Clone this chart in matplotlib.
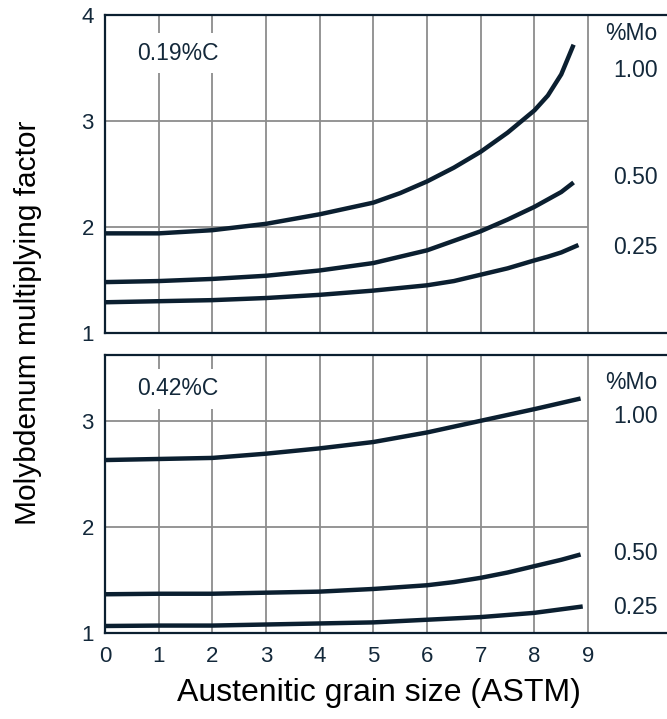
import matplotlib
matplotlib.use("Agg")
import matplotlib.pyplot as plt
import numpy as np

plt.rcParams['font.family'] = ['Liberation Sans', 'DejaVu Sans']

# grain size readings (ASTM) and multiplying factors
# 0.19 %C panel
x_top_100 = [0, 1, 2, 3, 4, 5, 5.5, 6, 6.5, 7, 7.5, 8, 8.25, 8.5, 8.73]
y_top_100 = [1.94, 1.94, 1.97, 2.03, 2.12, 2.23, 2.32, 2.43, 2.56, 2.71, 2.89, 3.10, 3.24, 3.44, 3.72]
x_top_050 = [0, 1, 2, 3, 4, 5, 6, 6.5, 7, 7.5, 8, 8.5, 8.73]
y_top_050 = [1.48, 1.49, 1.51, 1.54, 1.59, 1.66, 1.78, 1.87, 1.96, 2.07, 2.19, 2.33, 2.42]
x_top_025 = [0, 1, 2, 3, 4, 5, 6, 6.5, 7, 7.5, 8, 8.25, 8.5, 8.82]
y_top_025 = [1.29, 1.30, 1.31, 1.33, 1.36, 1.40, 1.45, 1.49, 1.55, 1.61, 1.685, 1.72, 1.76, 1.83]

# 0.42 %C panel
x_bot_100 = [0, 1, 2, 3, 4, 5, 6, 7, 8, 8.86]
y_bot_100 = [2.63, 2.64, 2.65, 2.69, 2.74, 2.80, 2.89, 3.00, 3.11, 3.21]
x_bot_050 = [0, 1, 2, 3, 4, 5, 6, 6.5, 7, 7.5, 8, 8.5, 8.86]
y_bot_050 = [1.365, 1.37, 1.37, 1.38, 1.39, 1.415, 1.45, 1.48, 1.52, 1.57, 1.63, 1.69, 1.74]
x_bot_025 = [0, 1, 2, 3, 4, 5, 6, 7, 8, 8.9]
y_bot_025 = [1.066, 1.07, 1.07, 1.08, 1.09, 1.10, 1.125, 1.15, 1.19, 1.25]

mo_labels = ['1.00', '0.50', '0.25']
carbon_labels = ['0.19%C', '0.42%C']
x_ticks = list(range(0, 10))

dark = '#0b1f30'
txt = '#13283a'
grid_c = '#8c8c8c'

fig = plt.figure(figsize=(6.67, 7.19), dpi=100)
W, H = 667, 719
left = 105 / W
ax1 = fig.add_axes([left, 1 - 333 / H, 1 - left, (333 - 15) / H])
ax2 = fig.add_axes([left, 1 - 633 / H, 1 - left, (633 - 355) / H])


def style(ax, ymax, yticks, show_x):
    ax.set_xlim(0, 10.47)
    ax.set_ylim(1, ymax)
    for s in ['top', 'bottom', 'left']:
        ax.spines[s].set_color(dark)
        ax.spines[s].set_linewidth(1.6)
    ax.spines['right'].set_visible(False)
    # grid only inside the 0..9 range
    ax.vlines(x_ticks[1:], 1, ymax, color=grid_c, lw=1.3, zorder=1)
    ax.hlines([t for t in yticks if 1 < t < ymax], 0, 9, color=grid_c, lw=1.3, zorder=1)
    ax.set_yticks(yticks)
    ax.set_yticklabels([str(t) for t in yticks])
    ax.tick_params(axis='y', length=0, pad=8, labelsize=16, labelcolor=txt)
    ax.set_xticks(x_ticks)
    if show_x:
        ax.set_xticklabels([str(t) for t in x_ticks])
    else:
        ax.set_xticklabels([])
    ax.tick_params(axis='x', length=0, pad=9, labelsize=16, labelcolor=txt)


style(ax1, 4, [1, 2, 3, 4], False)
style(ax2, 3.62, [1, 2, 3], True)

for x, y in [(x_top_100, y_top_100), (x_top_050, y_top_050), (x_top_025, y_top_025)]:
    ax1.plot(x, y, color=dark, lw=3.2, solid_capstyle='butt', solid_joinstyle='round', zorder=3)
for x, y in [(x_bot_100, y_bot_100), (x_bot_050, y_bot_050), (x_bot_025, y_bot_025)]:
    ax2.plot(x, y, color=dark, lw=3.2, solid_capstyle='butt', solid_joinstyle='round', zorder=3)

lab_kw = dict(ha='right', va='center', fontsize=16.5, color=txt)
ax1.text(10.3, 3.83, '%Mo', **lab_kw)
for lab, yy in zip(mo_labels, [3.48, 2.47, 1.81]):
    ax1.text(10.3, yy, lab, **lab_kw)
ax2.text(10.3, 3.36, '%Mo', **lab_kw)
for lab, yy in zip(mo_labels, [3.04, 1.75, 1.24]):
    ax2.text(10.3, yy, lab, **lab_kw)

box = dict(facecolor='white', edgecolor='none', pad=6)
ax1.text(1.36, 3.64, carbon_labels[0], ha='center', va='center', fontsize=16.5,
         color=txt, bbox=box, zorder=2)
ax2.text(1.36, 3.30, carbon_labels[1], ha='center', va='center', fontsize=16.5,
         color=txt, bbox=box, zorder=2)

fig.text(28 / W, 1 - 323 / H, 'Molybdenum multiplying factor', rotation=90,
         ha='center', va='center', fontsize=21.5, color='black')
fig.text(379 / W, 1 - 693 / H, 'Austenitic grain size (ASTM)',
         ha='center', va='center', fontsize=23, color='black')

fig.savefig('out.png', dpi=100)
